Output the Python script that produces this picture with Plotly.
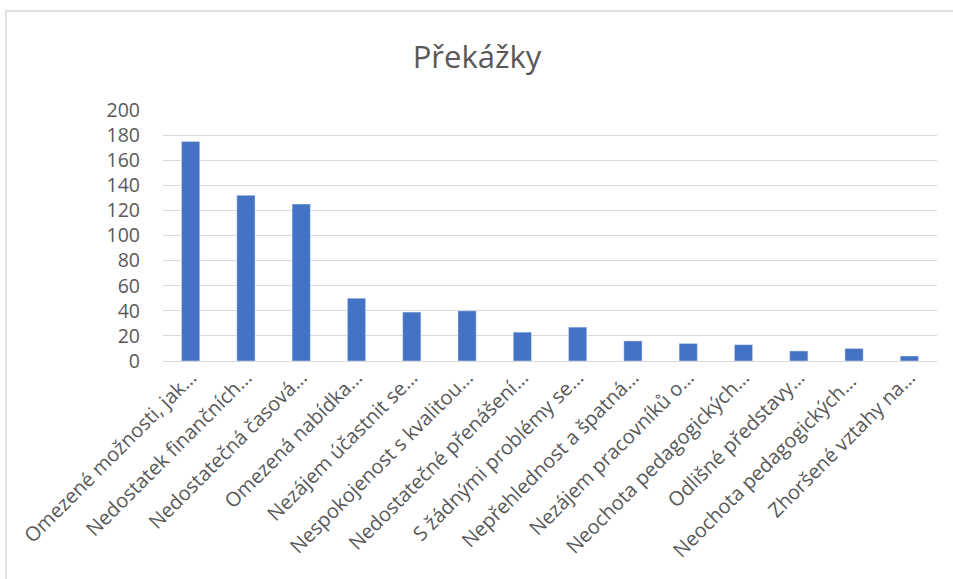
import plotly.graph_objects as go

categories = [
    "Omezené možnosti, jak…",
    "Nedostatek finančních…",
    "Nedostatečná časová…",
    "Omezená nabídka…",
    "Nezájem účastnit se…",
    "Nespokojenost s kvalitou…",
    "Nedostatečné přenášení…",
    "S žádnými problémy se…",
    "Nepřehlednost a špatná…",
    "Nezájem pracovníků o…",
    "Neochota pedagogických…",
    "Odlišné představy…",
    "Neochota pedagogických… ",
    "Zhoršené vztahy na…",
]
values = [175, 132, 125, 50, 39, 40, 23, 27, 16, 14, 13, 8, 10, 4]
y_ticks = [0, 20, 40, 60, 80, 100, 120, 140, 160, 180, 200]

text_color = "#595959"
font_family = "Open Sans, DejaVu Sans, sans-serif"

fig = go.Figure(
    go.Bar(
        x=list(range(len(categories))),
        y=values,
        marker=dict(color="#4472C4"),
        width=0.33,
    )
)

fig.update_layout(
    width=953,
    height=579,
    margin=dict(l=163, r=16, t=110, b=218, autoexpand=False),
    paper_bgcolor="white",
    plot_bgcolor="white",
    showlegend=False,
    title=dict(
        text="Překážky",
        x=477 / 953,
        xref="container",
        xanchor="center",
        y=1 - 57 / 579,
        yanchor="middle",
        font=dict(family=font_family, size=31, color=text_color),
    ),
    font=dict(family=font_family, color=text_color),
    xaxis=dict(
        tickmode="array",
        tickvals=list(range(len(categories))),
        ticktext=categories,
        tickangle=-45,
        range=[-0.5, len(categories) - 0.5],
        showgrid=False,
        showline=False,
        zeroline=False,
        ticks="",
        automargin=False,
        tickfont=dict(size=20, color=text_color),
    ),
    yaxis=dict(
        range=[0, 200],
        tickvals=y_ticks,
        showgrid=True,
        gridcolor="#d9d9d9",
        gridwidth=1.3,
        zeroline=True,
        zerolinecolor="#d9d9d9",
        zerolinewidth=1.3,
        showline=False,
        ticks="",
        automargin=False,
        ticklabelstandoff=22,
        tickfont=dict(size=19.5, color=text_color),
    ),
    shapes=[
        dict(
            type="rect",
            xref="paper",
            yref="paper",
            x0=(6 - 163) / 774,
            x1=1.2,
            y0=-1.2,
            y1=(361 - 11) / 251,
            line=dict(color="#d9d9d9", width=1.5),
            fillcolor="rgba(0,0,0,0)",
            layer="below",
        )
    ],
)

fig.write_html(
    "out.html",
    config={"displayModeBar": False},
    post_script="document.body.style.margin='0';document.body.style.overflow='hidden';",
)
